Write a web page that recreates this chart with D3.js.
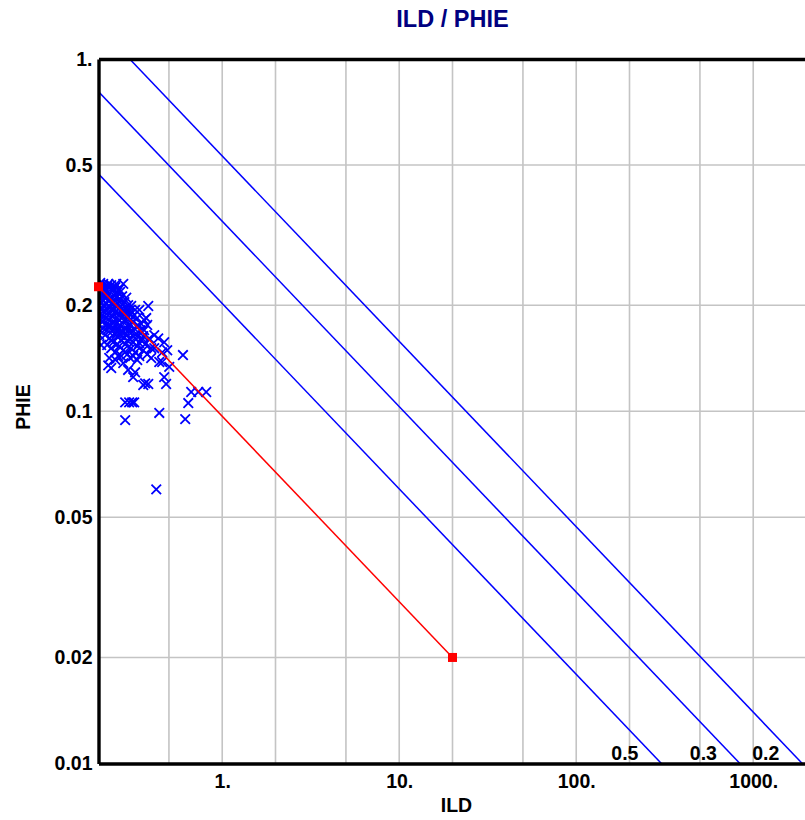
<!DOCTYPE html>
<html>
<head>
<meta charset="utf-8">
<script src="https://cdn.jsdelivr.net/npm/d3@7"></script>
<style>
  html, body { margin: 0; padding: 0; background: #fff; }
  svg { display: block; font-family: "Liberation Sans", Arial, sans-serif; font-weight: bold; }
</style>
</head>
<body>
<svg id="chart" width="805" height="820"></svg>
<script>
// ---------------- data ----------------
const chartTitle = "ILD / PHIE";
const xTitle = "ILD";
const yTitle = "PHIE";

const xDomain = [0.2, 2000];
const yDomain = [0.01, 1];

const xTickValues = [1, 10, 100, 1000];
const xTickLabels = ["1.", "10.", "100.", "1000."];
const yTickValues = [1, 0.5, 0.2, 0.1, 0.05, 0.02, 0.01];
const yTickLabels = ["1.", "0.5", "0.2", "0.1", "0.05", "0.02", "0.01"];
const xGridValues = [0.5, 1, 2, 5, 10, 20, 50, 100, 200, 500, 1000];
const yGridValues = [0.5, 0.2, 0.1, 0.05, 0.02];

// scatter points (ILD, PHIE)
const ildValues = [
  0.202,0.207,0.2125,0.218,0.224,0.230,0.236,0.242,0.249,0.255,0.262,0.276,
  0.204,0.210,0.215,0.221,0.227,0.233,0.239,0.245,0.252,0.258,0.265,0.272,0.280,0.287,0.294,
  0.202,0.207,0.2125,0.218,0.224,0.230,0.236,0.242,0.249,0.255,0.262,0.269,0.276,0.283,0.291,0.298,0.306,0.314,0.322,0.331,
  0.202,0.210,0.215,0.221,0.227,0.233,0.239,0.245,0.252,0.258,0.265,0.272,0.280,0.287,0.294,0.302,0.310,0.318,0.327,0.335,0.344,0.353,
  0.218,0.230,0.242,0.255,0.269,0.283,0.298,0.314,0.331,0.349,0.367,0.387,
  0.236,0.249,0.262,0.276,0.291,0.306,0.322,0.340,0.358,0.377,0.397,
  0.230,0.249,0.269,0.302,0.276,0.227,
  0.382,0.362,0.340,0.413,0.435,0.470,0.489,0.458,0.397,0.458,0.502,0.470,0.482,0.600,
  0.294,0.314,0.358,0.367,0.382,0.236,0.322,
  0.283,0.298,0.310,0.318,0.283,0.441,0.618,0.643,0.668,0.732,0.812,0.424,0.441,
  0.200,0.200,0.200,0.200,0.2125,0.236,0.262,0.283,0.306,0.249,0.224,0.362,0.377,0.413,
  0.2044,0.2152,0.227,0.239,0.252,0.265,0.2097,0.2209,0.233,0.245,0.258,0.272,0.287,0.302,0.310,
  0.2044,0.2152,0.227,0.239,0.252,0.265,0.280,0.294,0.322,0.340,0.358,0.224,0.236,0.255,0.283,
  0.314,0.331,0.258,0.2125,0.372,0.349,0.291,0.269,0.242,0.202,0.207
];
const phieValues = [
  0.228,0.224,0.230,0.221,0.227,0.224,0.228,0.221,0.225,0.218,0.222,0.230,
  0.214,0.207,0.217,0.210,0.214,0.207,0.212,0.204,0.210,0.202,0.207,0.212,0.204,0.210,0.200,
  0.200,0.194,0.199,0.191,0.196,0.189,0.194,0.186,0.191,0.184,0.189,0.194,0.186,0.191,0.184,0.189,0.182,0.186,0.194,0.184,
  0.184,0.179,0.186,0.176,0.182,0.175,0.179,0.172,0.177,0.170,0.175,0.168,0.172,0.166,0.170,0.175,0.168,0.172,0.166,0.175,0.170,0.161,
  0.1645,0.161,0.157,0.163,0.159,0.155,0.161,0.157,0.153,0.159,0.155,0.161,
  0.151,0.147,0.153,0.149,0.145,0.151,0.147,0.1435,0.149,0.145,0.151,
  0.1416,0.140,0.1435,0.1416,0.137,0.135,
  0.199,0.1816,0.194,0.151,0.161,0.157,0.149,0.147,0.1416,0.138,0.1336,0.125,0.1195,0.1444,
  0.131,0.125,0.1187,0.120,0.1195,0.1327,0.129,
  0.106,0.106,0.106,0.106,0.0944,0.0989,0.095,0.1055,0.1134,0.1134,0.1134,0.060,0.138,
  0.218,0.207,0.191,0.176,0.212,0.202,0.1816,0.1816,0.199,0.215,0.170,0.170,0.1757,0.1645,
  0.2312,0.2253,0.2297,0.2239,0.2297,0.2181,0.221,0.2029,0.1977,0.1951,0.1951,0.2003,0.1964,0.1938,0.1792,
  0.1888,0.1816,0.1746,0.1689,0.1667,0.1645,0.1614,0.1582,0.1614,0.1562,0.1634,0.1542,0.1593,0.1552,0.1473,
  0.1435,0.1398,0.1435,0.1722,0.1839,0.1769,0.1746,0.1839,0.178,0.1645,0.1542
];

// red line (Ro line) end points
const roILD = [0.2, 20];
const roPHIE = [0.2257, 0.02];

// saturation lines (Archie): ILD = rw / (PHIE^m * Sw^n)
const swValues = [0.5, 0.3, 0.2];
const swLabels = ["0.5", "0.3", "0.2"];
const archieRw = [0.012];
const archieM = [1.9];
const archieN = [2];

// ---------------- drawing ----------------
const svg = d3.select("#chart");
const pLeft = 98.5, pTop = 59, pRight = 806.5, pBottom = 763.5;

const x = d3.scaleLog().domain(xDomain).range([pLeft, pRight]);
const y = d3.scaleLog().domain(yDomain).range([pBottom, pTop]);

svg.append("defs").append("clipPath").attr("id", "plotclip")
  .append("rect").attr("x", pLeft).attr("y", pTop)
  .attr("width", pRight - pLeft).attr("height", pBottom - pTop);

// grid
const grid = svg.append("g");
grid.selectAll("line.vx").data(xGridValues).join("line")
  .attr("x1", d => x(d)).attr("x2", d => x(d))
  .attr("y1", pTop).attr("y2", pBottom)
  .attr("stroke", "#c4c4c4").attr("stroke-width", 1.6);
grid.selectAll("line.hy").data(yGridValues).join("line")
  .attr("y1", d => y(d)).attr("y2", d => y(d))
  .attr("x1", pLeft).attr("x2", pRight)
  .attr("stroke", "#c4c4c4").attr("stroke-width", 1.6);

const plot = svg.append("g").attr("clip-path", "url(#plotclip)");

// saturation lines
const rw = archieRw[0], mExp = archieM[0], nExp = archieN[0];
const swLines = swValues.map(sw => yDomain.map(p => ({ ild: rw / (Math.pow(p, mExp) * Math.pow(sw, nExp)), phie: p })));
const lineGen = d3.line().x(d => x(d.ild)).y(d => y(d.phie));
plot.selectAll("path.sw").data(swLines).join("path")
  .attr("d", lineGen)
  .attr("fill", "none").attr("stroke", "#0000ff").attr("stroke-width", 1.5);

// scatter
const pts = ildValues.map((v, i) => ({ ild: v, phie: phieValues[i] }));
const s = 4.8;
plot.selectAll("path.pt").data(pts).join("path")
  .attr("d", d => {
    const cx = x(d.ild), cy = y(d.phie);
    return `M${cx - s},${cy - s}L${cx + s},${cy + s}M${cx - s},${cy + s}L${cx + s},${cy - s}`;
  })
  .attr("stroke", "#0000ff").attr("stroke-width", 1.8).attr("fill", "none");

// red Ro line
const roPts = roILD.map((v, i) => ({ ild: v, phie: roPHIE[i] }));
svg.append("path").datum(roPts).attr("d", lineGen)
  .attr("fill", "none").attr("stroke", "#ff0000").attr("stroke-width", 1.5);

// axes
const fontSize = 19.5;
const yAxis = d3.axisLeft(y).tickValues(yTickValues)
  .tickFormat((d, i) => yTickLabels[i]).tickSize(0).tickSizeOuter(0).tickPadding(6);
const gy = svg.append("g").attr("transform", `translate(${pLeft},0)`).call(yAxis);
gy.select(".domain").attr("stroke", "#000").attr("stroke-width", 3.4);
gy.selectAll("text").attr("font-size", fontSize).attr("font-family", "'Liberation Sans', Arial, sans-serif")
  .attr("font-weight", "bold").attr("fill", "#000");

const xAxis = d3.axisBottom(x).tickValues(xTickValues)
  .tickFormat((d, i) => xTickLabels[i]).tickSize(0).tickSizeOuter(0).tickPadding(11);
const gx = svg.append("g").attr("transform", `translate(0,${pBottom})`).call(xAxis);
gx.select(".domain").attr("stroke", "#000").attr("stroke-width", 3.4);
gx.selectAll("text").attr("font-size", fontSize).attr("font-family", "'Liberation Sans', Arial, sans-serif")
  .attr("font-weight", "bold").attr("fill", "#000");

const xTopAxis = d3.axisTop(x).tickValues([]).tickSizeOuter(0);
const gt = svg.append("g").attr("transform", `translate(0,${pTop})`).call(xTopAxis);
gt.select(".domain").attr("stroke", "#000").attr("stroke-width", 3.4);

// red end squares
svg.selectAll("rect.ro").data(roPts).join("rect")
  .attr("x", d => x(d.ild) - 4.5).attr("y", d => y(d.phie) - 4.5)
  .attr("width", 9).attr("height", 9).attr("fill", "#ff0000");

// line labels
svg.selectAll("text.swl").data(swValues).join("text")
  .attr("x", sw => x(rw / (Math.pow(yDomain[0], mExp) * Math.pow(sw, nExp))) - 23)
  .attr("y", pBottom - 4)
  .attr("text-anchor", "end").attr("font-size", fontSize).attr("fill", "#000")
  .text((d, i) => swLabels[i]);

// titles
svg.append("text").attr("x", 452.5).attr("y", 26.5).attr("text-anchor", "middle")
  .attr("font-size", 23.5).attr("fill", "#000080").text(chartTitle);
svg.append("text").attr("x", 456.5).attr("y", 811.5).attr("text-anchor", "middle")
  .attr("font-size", 19.5).attr("fill", "#000").text(xTitle);
svg.append("text").attr("transform", "translate(29.5,407) rotate(-90)")
  .attr("text-anchor", "middle").attr("font-size", 19.5).attr("fill", "#000").text(yTitle);
</script>
</body>
</html>
